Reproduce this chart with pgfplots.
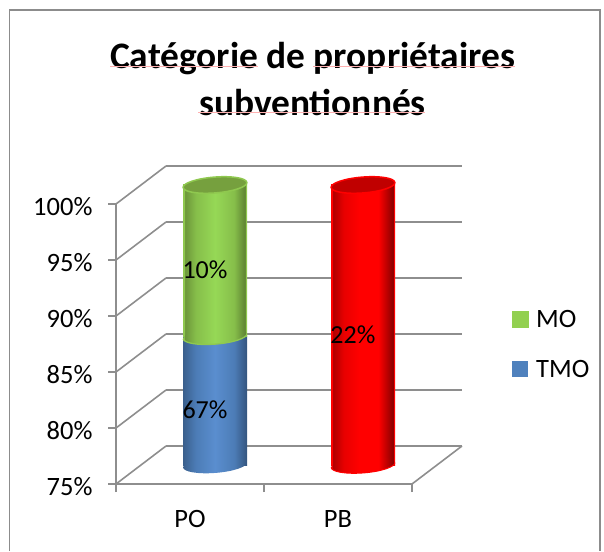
\documentclass[border=0pt]{standalone}
\usepackage{pgfplots}
\pgfplotsset{compat=1.18}
\usepackage{fontspec}
\setmainfont{Carlito}
\definecolor{gridgray}{HTML}{8E8E8E}
\definecolor{frameg}{HTML}{8C8C8C}
\definecolor{bA}{HTML}{3A5F8C}\definecolor{bB}{HTML}{4C7CB6}\definecolor{bC}{HTML}{5A8ECF}\definecolor{bD}{HTML}{34557E}
\definecolor{gRim}{HTML}{8FC84F}\definecolor{gA}{HTML}{6C963A}\definecolor{gB}{HTML}{86BE4A}\definecolor{gC}{HTML}{96D856}\definecolor{gD}{HTML}{5F8433}\definecolor{gTop}{HTML}{76A03E}
\definecolor{rRim}{HTML}{FF0000}\definecolor{rA}{HTML}{B00000}\definecolor{rB}{HTML}{E80000}\definecolor{rD}{HTML}{8A0000}\definecolor{rTop}{HTML}{C00000}
\definecolor{lgreen}{HTML}{92D050}\definecolor{lblue}{HTML}{4F81BD}\definecolor{spell}{HTML}{FFB0B0}
\pgfdeclarehorizontalshading{cylblue}{100bp}{color(0bp)=(bA);color(25bp)=(bA);color(35bp)=(bB);color(50bp)=(bC);color(65bp)=(bB);color(75bp)=(bD);color(100bp)=(bD)}
\pgfdeclarehorizontalshading{cylgreen}{100bp}{color(0bp)=(gRim);color(26bp)=(gRim);color(26.5bp)=(gA);color(35bp)=(gB);color(50bp)=(gC);color(65bp)=(gB);color(73.5bp)=(gD);color(74bp)=(gRim);color(100bp)=(gRim)}
\pgfdeclarehorizontalshading{cylred}{100bp}{color(0bp)=(rRim);color(26bp)=(rRim);color(26.5bp)=(rA);color(35bp)=(rB);color(47bp)=(rRim);color(62bp)=(rRim);color(73.5bp)=(rD);color(74bp)=(rRim);color(100bp)=(rRim)}
\newcommand\capellipse{\pgfpathellipse{\pgfpointorigin}{\pgfqpoint{31.9pt}{2.5pt}}{\pgfqpoint{-0.6pt}{7.9pt}}}
\newcommand\lowerarc{\pgfpathmoveto{\pgfqpoint{-31.9pt}{-2.5pt}}\pgfpathcurveto{\pgfqpoint{-31.57pt}{-6.86pt}}{\pgfqpoint{-17.02pt}{-9.28pt}}{\pgfqpoint{0.6pt}{-7.9pt}}\pgfpathcurveto{\pgfqpoint{18.22pt}{-6.52pt}}{\pgfqpoint{32.23pt}{-1.86pt}}{\pgfqpoint{31.9pt}{2.5pt}}}
\pgfdeclareplotmark{capblue}{\capellipse\pgfshadepath{cylblue}{0}\pgfusepath{discard}}
\pgfdeclareplotmark{capgreen}{\capellipse\pgfshadepath{cylgreen}{0}\pgfusepath{discard}\lowerarc\pgfsetstrokecolor{gRim}\pgfsetlinewidth{1.3pt}\pgfusepath{stroke}}
\pgfdeclareplotmark{capred}{\capellipse\pgfshadepath{cylred}{0}\pgfusepath{discard}\lowerarc\pgfsetstrokecolor{rRim}\pgfsetlinewidth{1pt}\pgfusepath{stroke}}
\pgfdeclareplotmark{topgreen}{\capellipse\pgfsetfillcolor{gTop}\pgfsetstrokecolor{gRim}\pgfsetlinewidth{1.5pt}\pgfusepath{fill,stroke}}
\pgfdeclareplotmark{topred}{\capellipse\pgfsetfillcolor{rTop}\pgfsetstrokecolor{rRim}\pgfsetlinewidth{1.5pt}\pgfusepath{fill,stroke}}
\pgfplotsset{gl/.style={gridgray,line width=1.6pt,forget plot}}
\begin{document}
\begin{tikzpicture}[x=1pt,y=1pt]
\path[use as bounding box] (0,0) rectangle (604,551);
\draw[frameg,line width=1.3pt] (9.5,0) -- (9.5,541) -- (600,541) -- (600,0);
\node[align=center,font=\fontsize{37.4}{47}\selectfont\bfseries] at (312.5,472) {Catégorie de propriétaires\\subventionnés};
\draw[spell,line width=1pt] (110,484) -- (258,484) (313,484) -- (515,484) (198,438) -- (425,438);
\begin{axis}[
  at={(116pt,67pt)},anchor=south west,scale only axis,width=296pt,height=280pt,
  xmin=-0.5,xmax=1.5,ymin=75,ymax=100,clip=false,
  axis x line*=bottom,axis y line*=left,
  axis line style={gridgray,line width=1.6pt,-},
  xtick={-0.5,0.5,1.5},x tick label as interval,xticklabels={PO,PB},
  ytick={75,80,85,90,95,100},
  yticklabel={\pgfmathprintnumber{\tick}\%},
  /pgf/number format/assume math mode=true,
  tick style={gridgray,line width=1.4pt},
  tick align=outside,major tick length=8pt,
  ticklabel style={font=\fontsize{26.5}{28}\selectfont},
  xticklabel style={yshift=-15pt},
  yticklabel style={xshift=-12pt,yshift=-3pt},
]
\addplot[gl] coordinates {(-0.1622,78.393) (1.8378,78.393)};
\addplot[gl] coordinates {(-0.1622,83.393) (1.8378,83.393)};
\addplot[gl] coordinates {(-0.1622,88.393) (1.8378,88.393)};
\addplot[gl] coordinates {(-0.1622,93.393) (1.8378,93.393)};
\addplot[gl] coordinates {(-0.1622,98.393) (1.8378,98.393)};
\addplot[gl] coordinates {(-0.1622,103.393) (1.8378,103.393)};
\addplot[gl] coordinates {(-0.5,75) (-0.1622,78.393)};
\addplot[gl] coordinates {(-0.5,80) (-0.1622,83.393)};
\addplot[gl] coordinates {(-0.5,85) (-0.1622,88.393)};
\addplot[gl] coordinates {(-0.5,90) (-0.1622,93.393)};
\addplot[gl] coordinates {(-0.5,95) (-0.1622,98.393)};
\addplot[gl] coordinates {(-0.5,100) (-0.1622,103.393)};
\addplot[gl] coordinates {(1.5,75) (1.8378,78.393)};
\end{axis}
\begin{axis}[
  at={(141pt,86pt)},anchor=south west,scale only axis,width=296pt,height=280pt,
  xmin=-0.5,xmax=1.5,ymin=75,ymax=100,clip=false,hide axis,
  legend style={at={(1.2534,0.557)},anchor=north west,draw=none,fill=none,
    font=\fontsize{26.5}{28}\selectfont,row sep=29pt,inner sep=0pt,nodes={inner sep=1pt}},
  legend cell align=left,
]
\addplot[only marks,mark=capblue,forget plot] coordinates {(0,75)};
\addplot[draw=none,shade,shading=cylblue,forget plot] coordinates {(-0.2162,75) (0.2162,75) (0.2162,86.5) (-0.2162,86.5)} -- cycle;
\addplot[only marks,mark=capgreen,forget plot] coordinates {(0,86.5)};
\addplot[draw=none,shade,shading=cylgreen,forget plot] coordinates {(-0.2162,86.5) (0.2162,86.5) (0.2162,100) (-0.2162,100)} -- cycle;
\addplot[only marks,mark=topgreen,forget plot] coordinates {(0,100)};
\addplot[only marks,mark=capred,forget plot] coordinates {(1,75)};
\addplot[draw=none,shade,shading=cylred,forget plot] coordinates {(0.7838,75) (1.2162,75) (1.2162,100) (0.7838,100)} -- cycle;
\addplot[only marks,mark=topred,forget plot] coordinates {(1,100)};
\addlegendimage{legend image code/.code={\fill[lgreen,draw=none] (0pt,-8.5pt) rectangle (17pt,8.5pt);\path[draw=none,fill=none] (0pt,0pt) -- (23pt,0pt);}}
\addlegendentry{MO}
\addlegendimage{legend image code/.code={\fill[lblue,draw=none] (0pt,-8pt) rectangle (16pt,8pt);\path[draw=none,fill=none] (0pt,0pt) -- (22pt,0pt);}}
\addlegendentry{TMO}
\node[font=\fontsize{26}{28}\selectfont] at (axis cs:-0.0676,92.41) {10\%};
\node[font=\fontsize{26}{28}\selectfont] at (axis cs:-0.0676,79.91) {67\%};
\node[font=\fontsize{26}{28}\selectfont] at (axis cs:0.932,86.6) {22\%};
\end{axis}
\end{tikzpicture}
\end{document}
